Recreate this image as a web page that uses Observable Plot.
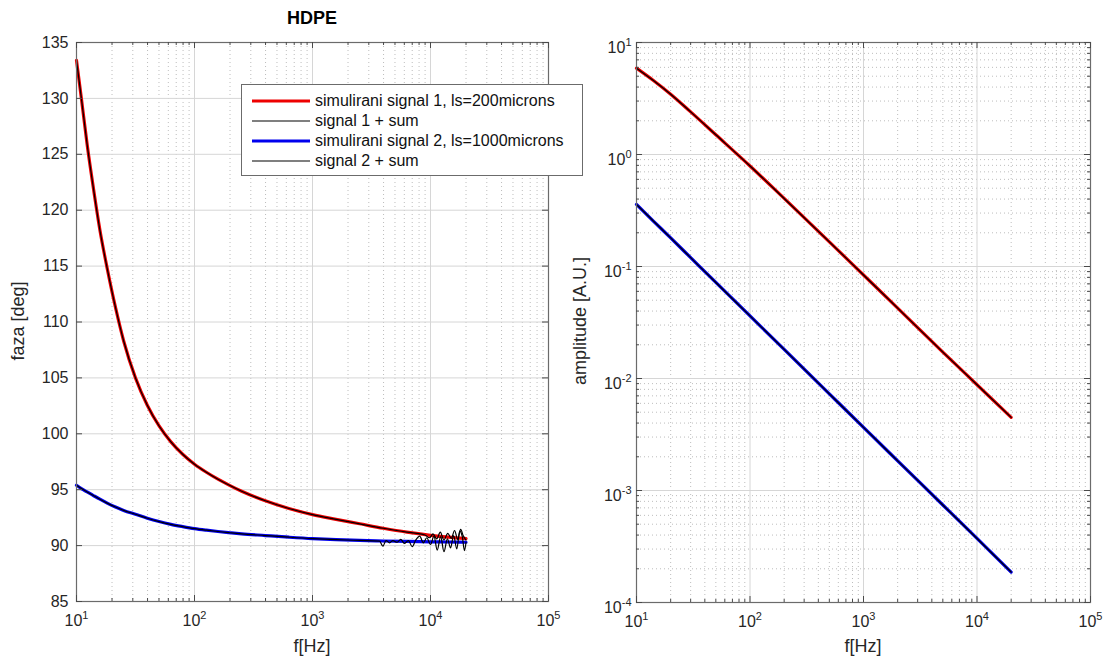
<!DOCTYPE html>
<html><head><meta charset="utf-8">
<script src="https://cdn.jsdelivr.net/npm/d3@7"></script>
<script src="https://cdn.jsdelivr.net/npm/@observablehq/plot@0.6"></script>
<style>
body{margin:0;background:#fff;font-family:"Liberation Sans",Arial,Helvetica,sans-serif;}
#wrap{position:relative;width:1117px;height:662px;overflow:hidden;background:#fff;}
.abs{position:absolute;}
.lbl{position:absolute;font-size:18px;color:#262626;white-space:nowrap;transform:translate(-50%,-50%);}
.legend{position:absolute;background:#fff;border:1px solid #6b6b6b;box-sizing:border-box;z-index:5;}
.legend .row{position:absolute;left:0;height:20px;width:100%;}
.legend .row span{position:absolute;left:73px;top:0px;font-size:16px;color:#111;white-space:nowrap;line-height:20px;}
.legend .row svg{position:absolute;left:8px;top:0;}
</style></head><body><div id="wrap"></div>
<script>
// ---------- data ----------
const phaseFreq = [10, 11, 12.3, 13.8, 15.8, 18.2, 21.4, 25.1, 31.6, 39.8, 50.1, 63.1, 79.4, 100, 126, 158, 200, 251, 398, 631, 1000, 1585, 2512, 3981, 6310, 10000, 14125, 20000];
const phaseSignal1 = [133.4, 130.0, 125.9, 122.2, 118.2, 114.8, 111.3, 108.3, 105.0, 102.55, 100.7, 99.28, 98.17, 97.28, 96.56, 95.94, 95.37, 94.86, 94.01, 93.32, 92.77, 92.35, 91.95, 91.55, 91.2, 90.92, 90.75, 90.62];
const phaseSignal2 = [95.4, 95.1, 94.8, 94.5, 94.15, 93.8, 93.45, 93.15, 92.8, 92.45, 92.15, 91.9, 91.7, 91.52, 91.38, 91.26, 91.15, 91.05, 90.9, 90.75, 90.62, 90.53, 90.46, 90.41, 90.37, 90.34, 90.32, 90.3];

// noisy "+ sum" tails (black thin lines)
const noise1Freq = [9000, 9800, 10500, 11300, 12100, 13000, 14000, 15000, 16000, 17000, 18000, 19000, 20000];
const noise1Phase = [90.95, 90.7, 91.05, 90.6, 91.2, 90.5, 91.1, 90.65, 91.35, 90.55, 91.45, 90.85, 90.5];
const noise2Freq = [3700, 3950, 4200, 4500, 4800, 5200, 5600, 6000, 6500, 7000, 7500, 8100, 8700, 9300, 10000, 10700, 11400, 12200, 13000, 13900, 14800, 15700, 16700, 17700, 18600, 19400, 20000];
const noise2Phase = [90.4, 89.95, 90.45, 90.25, 90.45, 90.3, 90.55, 90.2, 90.45, 89.9, 90.5, 90.85, 90.25, 90.7, 90.1, 90.85, 89.6, 90.8, 89.45, 90.6, 89.8, 90.9, 89.7, 91.3, 90.8, 89.55, 90.3];

const ampFreq = [10, 14, 20, 30, 50, 100, 200, 500, 1000, 2000, 5000, 10000, 20000];
const ampSignal1 = [5.9, 4.6, 3.45, 2.4, 1.5, 0.79, 0.405, 0.166, 0.084, 0.0425, 0.0172, 0.0088, 0.0045];
const ampSignal2 = [0.358, 0.256, 0.18, 0.12, 0.072, 0.0362, 0.0182, 0.0073, 0.00366, 0.00184, 0.000742, 0.000373, 0.000187];

const freqTicks = [10, 100, 1000, 10000, 100000];
const phaseTicks = [85, 90, 95, 100, 105, 110, 115, 120, 125, 130, 135];
const ampTicks = [1e-4, 1e-3, 1e-2, 1e-1, 1, 10];

const seriesNames = ["simulirani signal 1, ls=200microns", "signal 1 + sum", "simulirani signal 2, ls=1000microns", "signal 2 + sum"];
const seriesColors = ["#ee0000", "#000000", "#0000ee", "#000000"];
const titleText = "HDPE";
const xLabel = "f[Hz]";
const yLabelLeft = "faza [deg]";
const yLabelRight = "amplitude [A.U.]";

// ---------- helpers ----------
const minorOf = (majors) => {
  const out = [];
  for (let i = 0; i < majors.length - 1; i++) for (let k = 2; k <= 9; k++) out.push(majors[i] * k);
  return out;
};
const freqMinor = minorOf(freqTicks);
const ampMinor = minorOf(ampTicks);

const rows = (fs, vs) => fs.map((f, i) => ({f, v: vs[i]}));
const red = rows(phaseFreq, phaseSignal1);
const blue = rows(phaseFreq, phaseSignal2);
const black1 = red.filter(d => d.f < noise1Freq[0]).concat(rows(noise1Freq, noise1Phase));
const black2 = blue.filter(d => d.f < noise2Freq[0]).concat(rows(noise2Freq, noise2Phase));
const redA = rows(ampFreq, ampSignal1);
const blueA = rows(ampFreq, ampSignal2);

const expFmt = d => "10^" + Math.round(Math.log10(d));
const frameC = "#6b6b6b", tickC = "#4a4a4a", majGrid = "#d6d6d6", minGrid = "#b5b5b5";
const styleBase = {background: "transparent", fontSize: "16px", fontFamily: "Liberation Sans, Arial, Helvetica, sans-serif", color: "#262626", overflow: "visible"};

// ---------- left plot ----------
const LW = 560, H = 662, LmL = 76, LmR = 12, LmT = 42, LmB = 61;
const Liw = LW - LmL - LmR, Lih = H - LmT - LmB;
const left = Plot.plot({
  width: LW, height: H, marginLeft: LmL, marginRight: LmR, marginTop: LmT, marginBottom: LmB,
  style: styleBase,
  x: {type: "log", domain: [10, 1e5], label: null},
  y: {domain: [85, 135], label: null},
  marks: [
    Plot.ruleX(freqMinor, {stroke: minGrid, strokeWidth: 0.9, strokeDasharray: "1,3"}),
    Plot.ruleX(freqTicks, {stroke: majGrid, strokeWidth: 1}),
    Plot.ruleY(phaseTicks, {stroke: majGrid, strokeWidth: 1}),
    Plot.line(red, {x: "f", y: "v", stroke: seriesColors[0], strokeWidth: 3.2, curve: "monotone-x"}),
    Plot.line(blue, {x: "f", y: "v", stroke: seriesColors[2], strokeWidth: 3.2, curve: "monotone-x"}),
    Plot.line(black1, {x: "f", y: "v", stroke: "#000", strokeWidth: 1.2, curve: "monotone-x"}),
    Plot.line(black2, {x: "f", y: "v", stroke: "#000", strokeWidth: 1.2, curve: "monotone-x"}),
    Plot.frame({stroke: frameC, strokeWidth: 1.2}),
    Plot.tickX(freqTicks, {stroke: tickC, insetTop: Lih - 6}),
    Plot.tickX(freqTicks, {stroke: tickC, insetBottom: Lih - 6}),
    Plot.tickX(freqMinor, {stroke: tickC, insetTop: Lih - 3}),
    Plot.tickX(freqMinor, {stroke: tickC, insetBottom: Lih - 3}),
    Plot.tickY(phaseTicks, {stroke: tickC, insetRight: Liw - 6}),
    Plot.tickY(phaseTicks, {stroke: tickC, insetLeft: Liw - 6}),
    Plot.axisX({ticks: freqTicks, tickSize: 0, tickPadding: 13, tickFormat: expFmt, label: null}),
    Plot.axisY({ticks: phaseTicks, tickSize: 0, tickPadding: 8, label: null})
  ]
});

// ---------- right plot ----------
const RW = 557, RmL = 76, RmR = 27, RmT = 42, RmB = 60;
const Riw = RW - RmL - RmR, Rih = H - RmT - RmB;
const right = Plot.plot({
  width: RW, height: H, marginLeft: RmL, marginRight: RmR, marginTop: RmT, marginBottom: RmB,
  style: styleBase,
  x: {type: "log", domain: [10, 1e5], label: null},
  y: {type: "log", domain: [1e-4, 10], label: null},
  marks: [
    Plot.ruleX(freqMinor, {stroke: minGrid, strokeWidth: 0.9, strokeDasharray: "1,3"}),
    Plot.ruleY(ampMinor, {stroke: minGrid, strokeWidth: 0.9, strokeDasharray: "1,3"}),
    Plot.ruleX(freqTicks, {stroke: majGrid, strokeWidth: 1}),
    Plot.ruleY(ampTicks, {stroke: majGrid, strokeWidth: 1}),
    Plot.line(redA, {x: "f", y: "v", stroke: seriesColors[0], strokeWidth: 3.2, curve: "monotone-x"}),
    Plot.line(blueA, {x: "f", y: "v", stroke: seriesColors[2], strokeWidth: 3.2, curve: "monotone-x"}),
    Plot.line(redA, {x: "f", y: "v", stroke: "#000", strokeWidth: 1.2, curve: "monotone-x"}),
    Plot.line(blueA, {x: "f", y: "v", stroke: "#000", strokeWidth: 1.2, curve: "monotone-x"}),
    Plot.frame({stroke: frameC, strokeWidth: 1.2}),
    Plot.tickX(freqTicks, {stroke: tickC, insetTop: Rih - 6}),
    Plot.tickX(freqTicks, {stroke: tickC, insetBottom: Rih - 6}),
    Plot.tickX(freqMinor, {stroke: tickC, insetTop: Rih - 3}),
    Plot.tickX(freqMinor, {stroke: tickC, insetBottom: Rih - 3}),
    Plot.tickY(ampTicks, {stroke: tickC, insetRight: Riw - 6}),
    Plot.tickY(ampTicks, {stroke: tickC, insetLeft: Riw - 6}),
    Plot.tickY(ampMinor, {stroke: tickC, insetRight: Riw - 3}),
    Plot.tickY(ampMinor, {stroke: tickC, insetLeft: Riw - 3}),
    Plot.axisX({ticks: freqTicks, tickSize: 0, tickPadding: 13, tickFormat: expFmt, label: null}),
    Plot.axisY({ticks: ampTicks, tickSize: 0, tickPadding: 5, tickFormat: expFmt, dy: 5, label: null})
  ]
});

// superscript exponents as real text
function superscripts(svg) {
  svg.querySelectorAll("text").forEach(t => {
    const m = /^10\^(-?\d+)$/.exec(t.textContent.trim());
    if (!m) return;
    const el = t.querySelector("tspan") || t;
    el.textContent = "10";
    const sup = document.createElementNS("http://www.w3.org/2000/svg", "tspan");
    sup.setAttribute("dy", "-7");
    sup.setAttribute("font-size", "11px");
    sup.textContent = m[1];
    el.appendChild(sup);
  });
}
superscripts(left);
superscripts(right);

const wrap = document.getElementById("wrap");
const lDiv = document.createElement("div"); lDiv.className = "abs"; lDiv.style.left = "0px"; lDiv.style.top = "0px"; lDiv.appendChild(left);
const rDiv = document.createElement("div"); rDiv.className = "abs"; rDiv.style.left = "560px"; rDiv.style.top = "0px"; rDiv.appendChild(right);
wrap.appendChild(lDiv); wrap.appendChild(rDiv);

function label(text, x, y, rot, extra) {
  const d = document.createElement("div");
  d.className = "lbl";
  d.textContent = text;
  d.style.left = x + "px"; d.style.top = y + "px";
  if (rot) d.style.transform = "translate(-50%,-50%) rotate(-90deg)";
  if (extra) Object.assign(d.style, extra);
  wrap.appendChild(d);
}
label(titleText, 312, 18, false, {fontWeight: "bold", fontSize: "18px", color: "#000"});
label(xLabel, 312, 646);
label(xLabel, 863, 646);
label(yLabelLeft, 18, 321, true);
label(yLabelRight, 580, 321, true);

// legend
const lg = document.createElement("div");
lg.className = "legend";
Object.assign(lg.style, {left: "241px", top: "84px", width: "342px", height: "92px"});
seriesNames.forEach((name, i) => {
  const r = document.createElement("div");
  r.className = "row";
  r.style.top = (6 + i * 20) + "px";
  const sw = i % 2 === 0 ? 3.2 : 1.2;
  r.innerHTML = `<svg width="62" height="20"><line x1="2" x2="60" y1="10" y2="10" stroke="${seriesColors[i]}" stroke-width="${sw}"/></svg><span></span>`;
  r.querySelector("span").textContent = name;
  lg.appendChild(r);
});
wrap.appendChild(lg);
</script></body></html>
